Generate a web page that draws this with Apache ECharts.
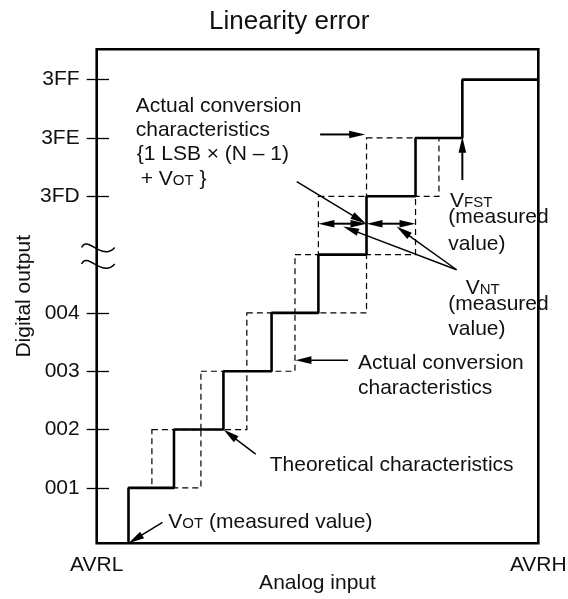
<!DOCTYPE html>
<html><head><meta charset="utf-8">
<script src="https://cdn.jsdelivr.net/npm/echarts@6/dist/echarts.min.js"></script>
<style>html,body{margin:0;padding:0;background:#fff}#c{width:568px;height:599px}</style>
</head><body><div id="c"></div>
<script>
// ---------- data ----------
const titleText = 'Linearity error';
const xAxisName = 'Analog input';
const yAxisName = 'Digital output';
const xEndValues = [0, 100];
const xEndLabels = ['AVRL', 'AVRH'];
const yTickValues = [1, 2, 3, 4, 6, 7, 8];
const yTickLabels = ['001', '002', '003', '004', '3FD', '3FE', '3FF'];
const breakLevel = 5;
// theoretical characteristics: analog input where the code rises from level i to i+1
const theoreticalRise = [7.2, 17.5, 28.7, 39.6, 50.2, 61.1, 72.2, 82.8];
// actual conversion characteristics: band of the transition from level k to k+1
const actualLevel = [1, 2, 3, 4, 5, 6];
const actualLow = [12.5, 23.6, 34.0, 44.9, 50.2, 61.1];
const actualHigh = [23.6, 34.0, 44.9, 61.1, 72.2, 77.5];
// annotation pointer arrows (start -> tip)
const arrowStartX = [45.3, 50.6, 82.8, 81.5, 81.5, 56.9, 36.0, 14.9];
const arrowStartY = [6.25, 7.06, 6.28, 4.74, 4.74, 3.19, 1.58, 0.41];
const arrowTipX = [61.0, 60.8, 82.8, 55.8, 67.9, 45.0, 28.7, 7.2];
const arrowTipY = [5.53, 7.06, 7.02, 5.48, 5.48, 3.19, 2.0, 0.05];
// VNT dimension arrows
const vntRowLevel = 5.53;
const vntFrom = [50.2, 61.1];
const vntTo = [61.1, 72.2];

// ---------- chart ----------
const FONT = '"Liberation Sans", Arial, Helvetica, sans-serif';
const INK = '#111';
const chart = echarts.init(document.getElementById('c'), null, {renderer: 'canvas'});

const yMin = 0.05, yMax = 8.52;
const tickIn = 12.3, tickOut = 10;

const stepData = theoreticalRise.map((x, i) => [x, i === 0 ? yMin : i]);
stepData.push([xEndValues[1], theoreticalRise.length]);

function arrowShapes(p1, p2, width, bothEnds) {
  const L = 16, w = 3.8;
  const dx = p2[0] - p1[0], dy = p2[1] - p1[1];
  const len = Math.sqrt(dx * dx + dy * dy);
  const ux = dx / len, uy = dy / len;
  const head = (tip, sx, sy) => ({
    type: 'polygon',
    shape: {points: [tip, [tip[0] - L * sx - w * sy, tip[1] - L * sy + w * sx], [tip[0] - L * sx + w * sy, tip[1] - L * sy - w * sx]]},
    style: {fill: '#000'}
  });
  const a = bothEnds ? [p1[0] + ux * (L - 2), p1[1] + uy * (L - 2)] : p1;
  const b = [p2[0] - ux * (L - 2), p2[1] - uy * (L - 2)];
  const children = [{type: 'line', shape: {x1: a[0], y1: a[1], x2: b[0], y2: b[1]}, style: {stroke: '#000', lineWidth: width}}];
  children.push(head(p2, ux, uy));
  if (bothEnds) children.push(head(p1, -ux, -uy));
  return children;
}

const rich = {
  s: {fontSize: 15, fontFamily: FONT, fill: INK, color: INK, padding: [4.4, 0, 0, 0]}
};
function txt(x, baseline, text, useRich) {
  const st = {text: text, fontSize: 21, fontFamily: FONT, fill: INK, align: 'left', verticalAlign: 'middle'};
  if (useRich) st.rich = rich;
  return {type: 'text', x: x, y: baseline - 0.3465 * 21, style: st, z: 50};
}

const option = {
  animation: false,
  backgroundColor: '#fff',
  textStyle: {fontFamily: FONT},
  title: {text: titleText, left: 209, top: 9, padding: 0,
    textStyle: {fontSize: 26, fontWeight: 'normal', color: INK, fontFamily: FONT}},
  grid: {left: 96.7, right: 29.7, top: 49.3, bottom: 55.7, show: true,
    containLabel: false, outerBoundsMode: 'none',
    borderColor: '#000', borderWidth: 2.6, backgroundColor: 'transparent'},
  xAxis: {
    type: 'value', min: xEndValues[0], max: xEndValues[1],
    axisLine: {show: false}, axisTick: {show: false}, splitLine: {show: false},
    axisLabel: {customValues: xEndValues, formatter: v => xEndLabels[xEndValues.indexOf(v)],
      margin: 11, fontSize: 21, color: INK, fontFamily: FONT},
    name: xAxisName, nameLocation: 'middle', nameGap: 29, nameMoveOverlap: false,
    nameTextStyle: {fontSize: 21, color: INK, fontFamily: FONT}
  },
  yAxis: {
    type: 'value', min: yMin, max: yMax, position: 'left', offset: -tickIn,
    axisLine: {show: false}, splitLine: {show: false},
    axisTick: {show: true, customValues: yTickValues, length: tickIn + tickOut, lineStyle: {color: '#000', width: 1.3}},
    axisLabel: {customValues: yTickValues, formatter: v => yTickLabels[yTickValues.indexOf(v)],
      margin: 17 + tickIn, fontSize: 21, color: INK, fontFamily: FONT},
    name: yAxisName, nameLocation: 'middle', nameGap: 62 + tickIn, nameMoveOverlap: false,
    nameTextStyle: {fontSize: 21, color: INK, fontFamily: FONT}
  },
  series: [
    { // actual conversion characteristics (dashed bands)
      type: 'custom', z: 2, clip: false,
      data: actualLevel.map((k, i) => [actualLow[i], actualHigh[i], k]),
      renderItem: (params, api) => {
        const p1 = api.coord([api.value(0), api.value(2) + 1]);
        const p2 = api.coord([api.value(1), api.value(2)]);
        return {type: 'rect', shape: {x: p1[0], y: p1[1], width: p2[0] - p1[0], height: p2[1] - p1[1]},
          style: {fill: 'none', stroke: '#000', lineWidth: 1.2, lineDash: [6, 4]}};
      }
    },
    { // theoretical characteristics
      type: 'line', z: 3, step: 'start', data: stepData, symbol: 'none',
      lineStyle: {color: '#000', width: 2.6}
    },
    { // pointer arrows
      type: 'custom', z: 4, clip: false,
      data: arrowStartX.map((x, i) => [x, arrowStartY[i], arrowTipX[i], arrowTipY[i]]),
      renderItem: (params, api) => {
        const p1 = api.coord([api.value(0), api.value(1)]);
        const p2 = api.coord([api.value(2), api.value(3)]);
        const w = (params.dataIndex === 1 || params.dataIndex === 2) ? 2 : 1.5;
        return {type: 'group', children: arrowShapes(p1, p2, w, false)};
      }
    },
    { // VNT dimension arrows
      type: 'custom', z: 4, clip: false,
      data: vntFrom.map((x, i) => [x, vntTo[i], vntRowLevel]),
      renderItem: (params, api) => {
        const p1 = api.coord([api.value(0), api.value(2)]);
        const p2 = api.coord([api.value(1), api.value(2)]);
        return {type: 'group', children: arrowShapes(p1, p2, 2, true)};
      }
    },
    { // axis break mark
      type: 'custom', z: 5, clip: false,
      data: [[xEndValues[0], breakLevel]],
      renderItem: (params, api) => {
        const c = api.coord([api.value(0), api.value(1)]);
        const curve = (cy) => ({type: 'bezierCurve',
          shape: {x1: c[0] - 15, y1: cy + 1, cpx1: c[0] - 10, cpy1: cy - 12, cpx2: c[0] + 6, cpy2: cy + 15, x2: c[0] + 18, y2: cy + 1},
          style: {stroke: '#000', lineWidth: 1.5, fill: 'none'}});
        return {type: 'group', children: [curve(c[1] - 8), curve(c[1] + 8.5)]};
      }
    }
  ],
  graphic: [
    txt(135.7, 113.5, 'Actual conversion'),
    txt(135.7, 137.5, 'characteristics'),
    txt(136.7, 161, '{1 LSB \u00d7 (N \u2013 1)'),
    txt(140.7, 186, '+ V{s|OT} }', true),
    txt(450, 208.3, 'V{s|FST}', true),
    txt(448.3, 224.5, '(measured'),
    txt(448.3, 251, 'value)'),
    txt(465.7, 295, 'V{s|NT}', true),
    txt(448.3, 311, '(measured'),
    txt(448.3, 336, 'value)'),
    txt(358, 370, 'Actual conversion'),
    txt(358, 395, 'characteristics'),
    txt(269.7, 472.3, 'Theoretical characteristics'),
    txt(168.3, 529.3, 'V{s|OT} (measured value)', true)
  ]
};
chart.setOption(option);
</script></body></html>
